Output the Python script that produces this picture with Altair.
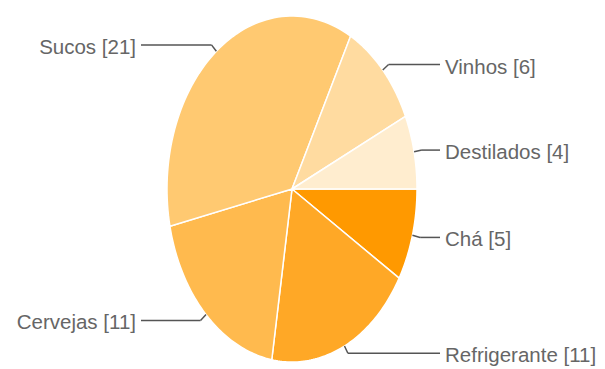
import altair as alt
import pandas as pd

categories = ["Chá", "Refrigerante", "Cervejas", "Sucos", "Vinhos", "Destilados"]
values = [5, 11, 11, 21, 6, 4]
colors = ["#FF9900", "#FFA826", "#FFBA4E", "#FFC971", "#FFDBA0", "#FFEDCF"]

df = pd.DataFrame({"cat": categories, "val": values, "color": colors,
                   "ord": list(range(len(categories)))})

W, H = 605, 369
CX, CY, RX, RY = 292, 189, 125, 173
N = 72

xs = alt.Scale(domain=[0, W], nice=False, zero=False)
ys = alt.Scale(domain=[0, H], nice=False, zero=False, reverse=True)

base = (
    alt.Chart(df)
    .transform_joinaggregate(total="sum(val)")
    .transform_window(cum="sum(val)", sort=[alt.SortField("ord")], frame=[None, 0])
    .transform_calculate(a0="(datum.cum - datum.val) / datum.total * 2 * PI")
    .transform_calculate(a1="datum.cum / datum.total * 2 * PI")
    .transform_calculate(am="(datum.a0 + datum.a1) / 2")
)

pie = (
    base.transform_calculate(ks=f"sequence(0, {N + 3})")
    .transform_flatten(["ks"], as_=["k"])
    .transform_calculate(t=f"datum.a0 + (datum.k - 1) / {N} * (datum.a1 - datum.a0)")
    .transform_calculate(
        px=f"(datum.k == 0 || datum.k == {N + 2}) ? {CX} : {CX} + {RX} * cos(datum.t)")
    .transform_calculate(
        py=f"(datum.k == 0 || datum.k == {N + 2}) ? {CY} : {CY} + {RY} * sin(datum.t)")
    .mark_line(stroke="white", strokeWidth=1.5, strokeJoin="round")
    .encode(
        x=alt.X("px:Q", scale=xs, axis=None),
        y=alt.Y("py:Q", scale=ys, axis=None),
        fill=alt.Fill("color:N", scale=None, legend=None),
        detail="cat:N",
        order="k:Q",
    )
)

lead = (
    base.transform_calculate(side="cos(datum.am) >= 0 ? 1 : -1")
    .transform_calculate(mx=f"{CX} + {RX} * cos(datum.am)")
    .transform_calculate(my=f"{CY} + {RY} * sin(datum.am)")
    .transform_calculate(ex=f"{CX} + {RX + 8} * cos(datum.am)")
    .transform_calculate(ly=f"{CY} + {RY + 8} * sin(datum.am)")
    .transform_calculate(lx="datum.side > 0 ? 440 : 141")
    .transform_calculate(tx="datum.side > 0 ? 445 : 136")
    .transform_calculate(label="datum.cat + ' [' + datum.val + ']'")
)

seg1 = lead.mark_rule(color="#555555", strokeWidth=1.5).encode(
    x=alt.X("mx:Q", scale=xs, axis=None), y=alt.Y("my:Q", scale=ys, axis=None),
    x2="ex:Q", y2="ly:Q")
seg2 = lead.mark_rule(color="#555555", strokeWidth=1.5).encode(
    x=alt.X("ex:Q", scale=xs, axis=None), y=alt.Y("ly:Q", scale=ys, axis=None),
    x2="lx:Q", y2="ly:Q")

font = "Liberation Sans, Arial, sans-serif"
txt_r = lead.transform_filter("datum.side > 0").mark_text(
    align="left", baseline="middle", dy=3, fontSize=20.5, font=font, color="#666666"
).encode(x=alt.X("tx:Q", scale=xs, axis=None), y=alt.Y("ly:Q", scale=ys, axis=None),
         text="label:N")
txt_l = lead.transform_filter("datum.side < 0").mark_text(
    align="right", baseline="middle", dy=3, fontSize=20.5, font=font, color="#666666"
).encode(x=alt.X("tx:Q", scale=xs, axis=None), y=alt.Y("ly:Q", scale=ys, axis=None),
         text="label:N")

chart = (
    alt.layer(pie, seg1, seg2, txt_r, txt_l)
    .properties(width=W, height=H, autosize=alt.AutoSizeParams(type="none"), padding=0)
    .configure_view(stroke=None)
)

chart.save("out.html", embed_options={"renderer": "svg", "actions": False})
